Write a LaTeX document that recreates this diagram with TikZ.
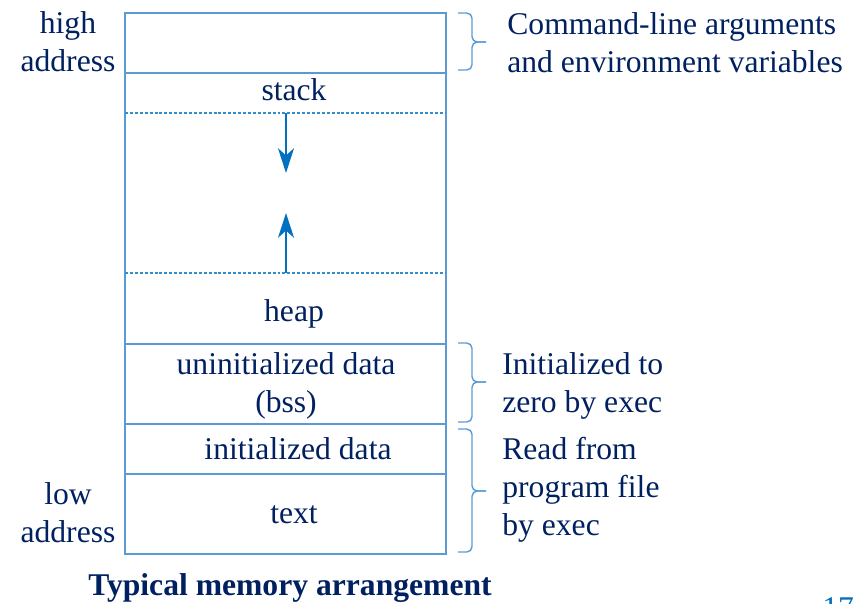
\documentclass[tikz,border=0pt]{standalone}
\usepackage{fontspec}
\setmainfont{Liberation Serif}
\usetikzlibrary{arrows.meta}
\definecolor{boxblue}{RGB}{91,155,213}
\definecolor{arrowblue}{RGB}{0,112,192}
\definecolor{inkblue}{RGB}{0,32,96}

\begin{document}
\begin{tikzpicture}[x=0.02cm, y=-0.02cm,
        lbl/.style={text=inkblue, font=\fontsize{18}{21.6}\selectfont, align=center, inner sep=0pt, anchor=base},
        note/.style={text=inkblue, font=\fontsize{18}{21.6}\selectfont, align=left, inner sep=0pt, anchor=base west},
        wall/.style={draw=boxblue, line width=0.8pt},
        cut/.style={draw=arrowblue!80, line width=0.6pt, dash pattern=on 1.7pt off 1.1pt},
        growarrow/.style={draw=arrowblue, line width=1.7pt, -{Stealth[length=14pt, width=9pt, inset=4pt]}},
        bracket/.style={draw=boxblue, line width=0.8pt, rounded corners=3pt}]
        \useasboundingbox (0,0) rectangle (857,603);

        \draw[wall] (125,13) rectangle (446,554);
        \draw[wall] (125,73) -- (446,73);
        \draw[wall] (125,344) -- (446,344);
        \draw[wall] (125,424) -- (446,424);
        \draw[wall] (125,474) -- (446,474);
        \draw[cut] (125,113) -- (446,113);
        \draw[cut] (125,273) -- (446,273);

        \coordinate (stacktop) at (286,113);
        \coordinate (stackend) at (286,173);
        \coordinate (heaptop) at (286,273);
        \coordinate (heapend) at (286,213);
        \draw[growarrow] (stacktop) -- (stackend);
        \draw[growarrow] (heaptop) -- (heapend);

        \node[lbl] (high) at (68,71) {high\\address};
        \node[lbl] (low) at (68,542) {low\\address};
        \node[lbl] (stack) at (294,100) {stack};
        \node[lbl] (heap) at (294,321) {heap};
        \node[lbl] (bss) at (286,412) {uninitialized data\\(bss)};
        \node[lbl] (data) at (298,459) {initialized data};
        \node[lbl] (text) at (294,523) {text};

        \coordinate (argstop) at (458,13);
        \coordinate (argsbot) at (458,70);
        \coordinate (argstip) at (486,42);
        \coordinate (bsstop) at (458,343);
        \coordinate (bssbot) at (458,422);
        \coordinate (bsstip) at (486,382);
        \coordinate (filetop) at (458,429);
        \coordinate (filebot) at (458,552);
        \coordinate (filetip) at (486,491);
        \draw[bracket] (argstop) -- ++(14,0) |- (argstip);
        \draw[bracket] (argsbot) -- ++(14,0) |- (argstip);
        \draw[bracket] (bsstop) -- ++(14,0) |- (bsstip);
        \draw[bracket] (bssbot) -- ++(14,0) |- (bsstip);
        \draw[bracket] (filetop) -- ++(14,0) |- (filetip);
        \draw[bracket] (filebot) -- ++(14,0) |- (filetip);

        \node[note] (args) at (507,72) {Command-line arguments\\and environment variables};
        \node[note] (zero) at (502,412) {Initialized to\\zero by exec};
        \node[note] (load) at (502,535) {Read from\\program file\\by exec};

        \node[lbl, font=\fontsize{18}{21.6}\selectfont\bfseries] (caption) at (290,595) {Typical memory arrangement};
        \node[note, text=arrowblue] (page) at (822,618) {17};

    \end{tikzpicture}
\end{document}
